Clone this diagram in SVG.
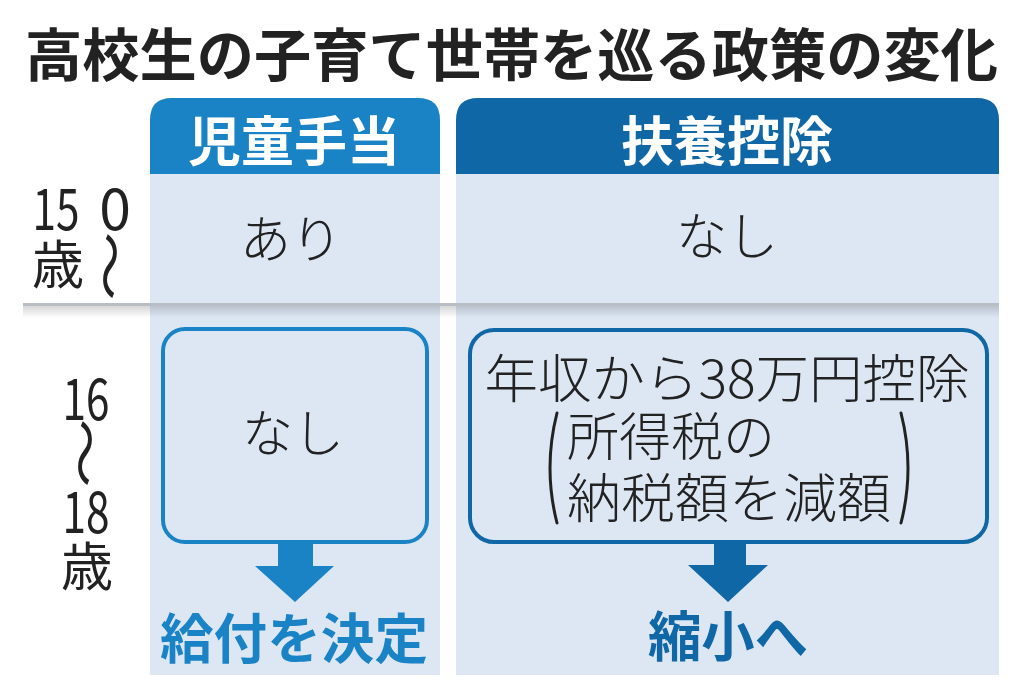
<svg xmlns="http://www.w3.org/2000/svg" width="1024" height="684" viewBox="0 0 1024 684">
  <style>
    text { font-family: "Noto Sans CJK JP", "Noto Sans", sans-serif; }
    .title { font-size: 57px; font-weight: 700; fill: #222222; }
    .head { font-size: 53px; font-weight: 700; fill: #ffffff; text-anchor: middle; }
    .body { font-size: 51px; font-weight: 300; fill: #222222; text-anchor: middle; }
    .label { font-size: 57px; font-weight: 400; fill: #222222; text-anchor: middle; }
    .res { font-size: 54px; font-weight: 700; text-anchor: middle; }
    .colbg { fill: #dde7f4; }
    .blueL { fill: #1a83c6; }
    .blueR { fill: #0f67a5; }
    .box { fill: none; stroke-width: 4; }
    .paren { fill: none; stroke: #222222; stroke-width: 3; stroke-linecap: round; }
  </style>
  <defs>
    <linearGradient id="shade" x1="0" y1="0" x2="0" y2="1">
      <stop offset="0" stop-color="#000000" stop-opacity="0.16"/>
      <stop offset="1" stop-color="#000000" stop-opacity="0"/>
    </linearGradient>
  </defs>
  <rect width="1024" height="684" fill="#ffffff"/>

  <g id="title">
    <text class="title" x="25" y="76" textLength="973" lengthAdjust="spacingAndGlyphs">高校生の子育て世帯を巡る政策の変化</text>
  </g>

  <g id="col-jidou">
    <rect class="colbg" x="150" y="174" width="290" height="501"/>
    <path class="blueL" d="M150 174 V120 Q150 98 172 98 H418 Q440 98 440 120 V174 Z"/>
    <text class="head" x="294" y="161">児童手当</text>
  </g>

  <g id="col-fuyou">
    <rect class="colbg" x="456" y="174" width="543" height="501"/>
    <path class="blueR" d="M456 174 V120 Q456 98 478 98 H977 Q999 98 999 120 V174 Z"/>
    <text class="head" x="727" y="161">扶養控除</text>
  </g>

  <g id="separator">
    <rect x="23" y="303" width="976" height="3" fill="#b9bdc4"/>
    <rect x="23" y="306" width="976" height="12" fill="url(#shade)"/>
  </g>

  <g id="age-0-15">
    <text class="label" x="56" y="230" textLength="47" lengthAdjust="spacingAndGlyphs">15</text>
    <text class="label" x="115" y="230">0</text>
    <text class="label" x="58" y="284" style="font-size:52px">歳</text>
    <text class="label" transform="translate(113 266) rotate(90) scale(1.45 1)" dominant-baseline="central" style="font-size:48px">〜</text>
  </g>

  <g id="age-16-18">
    <text class="label" x="86" y="420" textLength="47" lengthAdjust="spacingAndGlyphs">16</text>
    <text class="label" transform="translate(88 453) rotate(90) scale(1.45 1)" dominant-baseline="central" style="font-size:48px">〜</text>
    <text class="label" x="86" y="533" textLength="47" lengthAdjust="spacingAndGlyphs">18</text>
    <text class="label" x="87" y="586" style="font-size:52px">歳</text>
  </g>

  <g id="jidou-0-15">
    <text class="body" x="291" y="258">あり</text>
  </g>

  <g id="fuyou-0-15">
    <text class="body" x="727" y="255">なし</text>
  </g>

  <g id="jidou-16-18">
    <rect class="box" x="163" y="329" width="264" height="213" rx="22" stroke="#1a83c6"/>
    <text class="body" x="293" y="452">なし</text>
  </g>

  <g id="fuyou-16-18">
    <rect class="box" x="470" y="330" width="517" height="212" rx="24" stroke="#0f67a5"/>
    <text class="body" x="727" y="398" style="font-size:52px" textLength="485" lengthAdjust="spacingAndGlyphs">年収から38万円控除</text>
    <text class="body" x="567" y="456" style="font-size:52px;text-anchor:start">所得税の</text>
    <text class="body" x="567" y="518" style="font-size:53px;text-anchor:start" textLength="324" lengthAdjust="spacingAndGlyphs">納税額を減額</text>
    <path class="paren" d="M557 413 Q543 468 557 523"/>
    <path class="paren" d="M901 413 Q915 468 901 523"/>
  </g>

  <g id="connectors">
    <polygon class="blueL" points="278,542 313,542 313,566 334,566 295,602 255,566 278,566"/>
    <polygon class="blueR" points="714,542 746,542 746,565 768,565 728,602 688,565 714,565"/>
  </g>

  <g id="result-jidou">
    <text class="res" x="294" y="659" fill="#1a83c6" textLength="268" lengthAdjust="spacingAndGlyphs">給付を決定</text>
  </g>

  <g id="result-fuyou">
    <text class="res" x="728" y="657" fill="#0f67a5" textLength="160" lengthAdjust="spacingAndGlyphs">縮小へ</text>
  </g>
</svg>
